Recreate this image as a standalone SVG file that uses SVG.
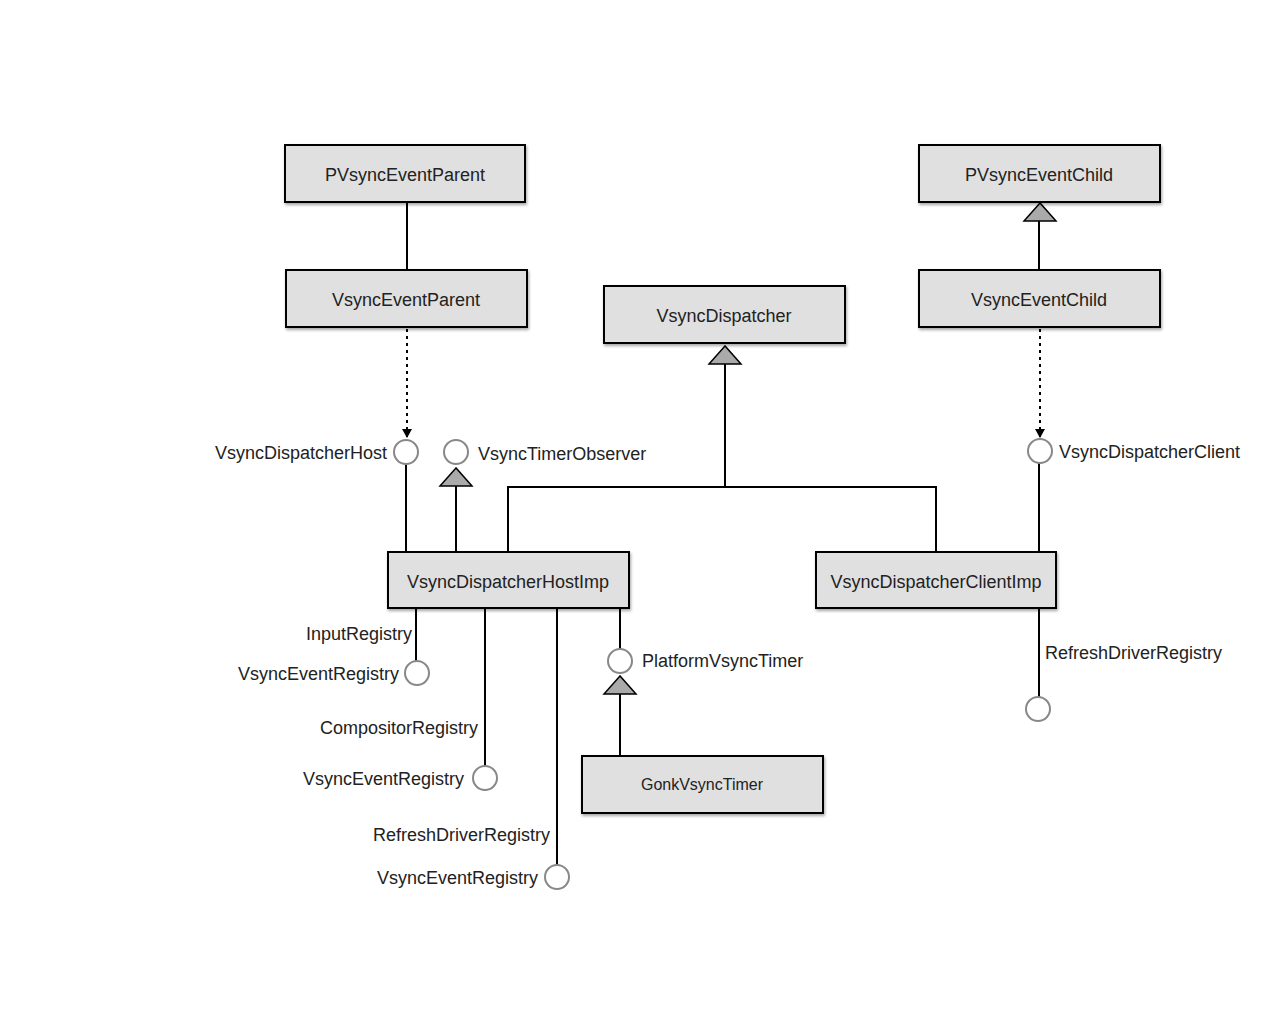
<svg xmlns="http://www.w3.org/2000/svg" width="1280" height="1024" viewBox="0 0 1280 1024">
<defs>
<style>
.box{fill:#e0e0e0;stroke:#000;stroke-width:2;filter:url(#sh)}
.bt{font-family:"Liberation Sans",Arial,sans-serif;font-size:18px;fill:#222;text-anchor:middle}
.lb{font-family:"Liberation Sans",Arial,sans-serif;font-size:18px;fill:#222}
.r{text-anchor:end}
.ln{fill:none;stroke:#000;stroke-width:2}
.dot{fill:none;stroke:#000;stroke-width:2;stroke-dasharray:3 4}
.ifc{fill:#fff;stroke:#888;stroke-width:2}
.tri{fill:#aaa;stroke:#000;stroke-width:1.5}
</style>
<filter id="sh" x="-10%" y="-20%" width="130%" height="150%">
<feDropShadow dx="1" dy="2" stdDeviation="1.5" flood-color="#000" flood-opacity="0.35"/>
</filter>
<marker id="arr" markerWidth="10" markerHeight="10" refX="8" refY="5" orient="auto" markerUnits="userSpaceOnUse">
<path d="M0,0 L9,5 L0,10 z" fill="#000"/>
</marker>
</defs>
<rect width="1280" height="1024" fill="#fff"/>

<g id="connectors">
<line class="ln" x1="407" y1="202" x2="407" y2="270"/>
<line class="dot" x1="407" y1="329" x2="407" y2="437" marker-end="url(#arr)"/>
<line class="ln" x1="406" y1="464" x2="406" y2="552"/>
<line class="ln" x1="456" y1="486" x2="456" y2="552"/>
<polyline class="ln" points="508,552 508,487 936,487 936,552"/>
<line class="ln" x1="725" y1="487" x2="725" y2="364"/>
<line class="ln" x1="1039" y1="221" x2="1039" y2="270"/>
<line class="dot" x1="1040" y1="329" x2="1040" y2="437" marker-end="url(#arr)"/>
<line class="ln" x1="1039" y1="463" x2="1039" y2="552"/>
<line class="ln" x1="1039" y1="608" x2="1039" y2="697"/>
<line class="ln" x1="416" y1="608" x2="416" y2="661"/>
<line class="ln" x1="485" y1="608" x2="485" y2="766"/>
<line class="ln" x1="557" y1="608" x2="557" y2="865"/>
<line class="ln" x1="620" y1="608" x2="620" y2="649"/>
<line class="ln" x1="620" y1="694" x2="620" y2="756"/>
<polygon class="tri" points="725,346 709,364 741,364"/>
<polygon class="tri" points="1040,203 1024,221 1056,221"/>
<polygon class="tri" points="456,468 440,486 472,486"/>
<polygon class="tri" points="620,676 604,694 636,694"/>
</g>

<g id="PVsyncEventParent"><rect class="box" x="285" y="145" width="240" height="57"/><text class="bt" x="405" y="181">PVsyncEventParent</text></g>
<g id="VsyncEventParent"><rect class="box" x="286" y="270" width="241" height="57"/><text class="bt" x="406" y="306">VsyncEventParent</text></g>
<g id="VsyncDispatcher"><rect class="box" x="604" y="286" width="241" height="57"/><text class="bt" x="724" y="322">VsyncDispatcher</text></g>
<g id="PVsyncEventChild"><rect class="box" x="919" y="145" width="241" height="57"/><text class="bt" x="1039" y="181">PVsyncEventChild</text></g>
<g id="VsyncEventChild"><rect class="box" x="919" y="270" width="241" height="57"/><text class="bt" x="1039" y="306">VsyncEventChild</text></g>
<g id="VsyncDispatcherHostImp"><rect class="box" x="388" y="552" width="241" height="56"/><text class="bt" x="508" y="588">VsyncDispatcherHostImp</text></g>
<g id="VsyncDispatcherClientImp"><rect class="box" x="816" y="552" width="240" height="56"/><text class="bt" x="936" y="588">VsyncDispatcherClientImp</text></g>
<g id="GonkVsyncTimer"><rect class="box" x="582" y="756" width="241" height="57"/><text class="bt" x="702" y="790" style="font-size:16px">GonkVsyncTimer</text></g>

<g id="VsyncDispatcherHost"><circle class="ifc" cx="406" cy="452" r="12"/><text class="lb r" x="387" y="459">VsyncDispatcherHost</text></g>
<g id="VsyncTimerObserver"><circle class="ifc" cx="456" cy="452" r="12"/><text class="lb" x="478" y="460">VsyncTimerObserver</text></g>
<g id="VsyncDispatcherClient"><circle class="ifc" cx="1040" cy="451" r="12"/><text class="lb" x="1059" y="458">VsyncDispatcherClient</text></g>
<g id="InputRegistry"><circle class="ifc" cx="417" cy="673" r="12"/><text class="lb r" x="412" y="640">InputRegistry</text><text class="lb r" x="399" y="680">VsyncEventRegistry</text></g>
<g id="CompositorRegistry"><circle class="ifc" cx="485" cy="778" r="12"/><text class="lb r" x="478" y="734">CompositorRegistry</text><text class="lb r" x="464" y="785">VsyncEventRegistry</text></g>
<g id="RefreshDriverRegistryHost"><circle class="ifc" cx="557" cy="877" r="12"/><text class="lb r" x="550" y="841">RefreshDriverRegistry</text><text class="lb r" x="538" y="884">VsyncEventRegistry</text></g>
<g id="PlatformVsyncTimer"><circle class="ifc" cx="620" cy="661" r="12"/><text class="lb" x="642" y="667">PlatformVsyncTimer</text></g>
<g id="RefreshDriverRegistryClient"><circle class="ifc" cx="1038" cy="709" r="12"/><text class="lb" x="1045" y="659">RefreshDriverRegistry</text></g>
</svg>
